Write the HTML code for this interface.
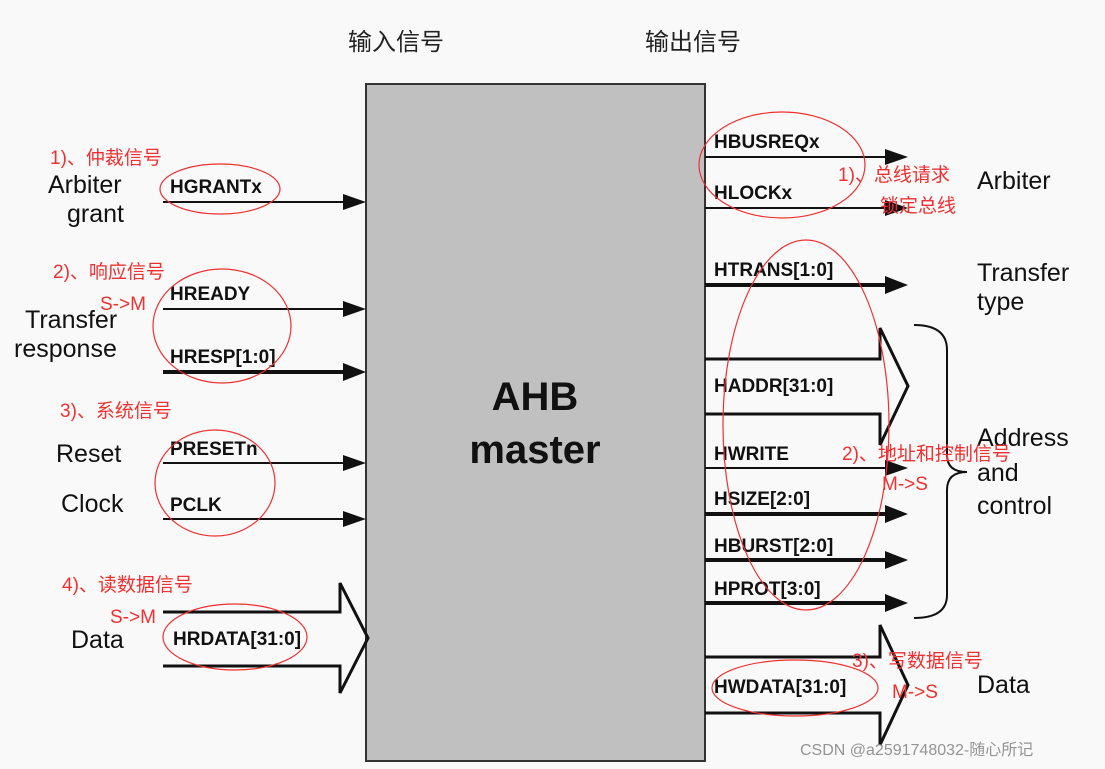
<!DOCTYPE html>
<html><head><meta charset="utf-8"><style>
html,body{margin:0;padding:0;background:#f9f9f9;}
svg{display:block}
.s{font-family:"Liberation Sans","Noto Sans CJK SC",sans-serif;}
.b{font-family:"Liberation Sans",sans-serif;font-weight:bold;font-size:19px;fill:#111;}
.l{font-family:"Liberation Sans",sans-serif;font-size:25px;fill:#111;}
.r{font-family:"Liberation Sans","Noto Sans CJK SC",sans-serif;font-size:19px;fill:#f03030;}
</style></head><body>
<svg width="1105" height="769" viewBox="0 0 1105 769" xmlns="http://www.w3.org/2000/svg">
<rect width="1105" height="769" fill="#f9f9f9"/>
<text x="348" y="50" class="s" font-size="24" fill="#222">输入信号</text>
<text x="645" y="50" class="s" font-size="24" fill="#222">输出信号</text>
<rect x="366" y="84" width="339" height="677" fill="#c0c0c0" stroke="#333" stroke-width="2"/>
<text x="535" y="410" text-anchor="middle" font-family="Liberation Sans,sans-serif" font-weight="bold" font-size="40" fill="#111">AHB</text>
<text x="535" y="463" text-anchor="middle" font-family="Liberation Sans,sans-serif" font-weight="bold" font-size="40" fill="#111">master</text>
<g stroke="#111" fill="none">
<line x1="163" y1="202" x2="345" y2="202" stroke-width="2"/>
<line x1="163" y1="309" x2="345" y2="309" stroke-width="2"/>
<line x1="163" y1="372" x2="345" y2="372" stroke-width="4"/>
<line x1="163" y1="463" x2="345" y2="463" stroke-width="2"/>
<line x1="163" y1="519" x2="345" y2="519" stroke-width="2"/>
<path d="M163 612 H340 V583 L368 638 L340 693 V666 H163" stroke-width="3"/>
<line x1="705" y1="157" x2="888" y2="157" stroke-width="2"/>
<line x1="705" y1="208" x2="888" y2="208" stroke-width="2"/>
<line x1="705" y1="285" x2="888" y2="285" stroke-width="4"/>
<path d="M705 359 H880 V328 L908 386 L880 445 V414 H705" stroke-width="3"/>
<line x1="705" y1="468" x2="888" y2="468" stroke-width="2"/>
<line x1="705" y1="514" x2="888" y2="514" stroke-width="4"/>
<line x1="705" y1="560" x2="888" y2="560" stroke-width="4"/>
<line x1="705" y1="603" x2="888" y2="603" stroke-width="4"/>
<path d="M705 657 H880 V625 L908 685 L880 745 V713 H705" stroke-width="3"/>
<path d="M914 325 Q947 325 947 350 V455 Q947 472 967 472 Q947 472 947 490 V595 Q947 618 914 618" stroke-width="2"/>
</g>
<g fill="#111">
<polygon points="343,194 366,202 343,210"/>
<polygon points="343,301 366,309 343,317"/>
<polygon points="343,363 366,372 343,381"/>
<polygon points="343,455 366,463 343,471"/>
<polygon points="343,511 366,519 343,527"/>
<polygon points="885,149 908,157 885,165"/>
<polygon points="885,200 908,208 885,216"/>
<polygon points="885,276 908,285 885,294"/>
<polygon points="885,460 908,468 885,476"/>
<polygon points="885,505 908,514 885,523"/>
<polygon points="885,551 908,560 885,569"/>
<polygon points="885,594 908,603 885,612"/>
</g>
<text x="170" y="193" class="b">HGRANTx</text>
<text x="170" y="300" class="b">HREADY</text>
<text x="170" y="363" class="b">HRESP[1:0]</text>
<text x="170" y="455" class="b">PRESETn</text>
<text x="170" y="511" class="b">PCLK</text>
<text x="173" y="645" class="b">HRDATA[31:0]</text>
<text x="714" y="148" class="b">HBUSREQx</text>
<text x="714" y="199" class="b">HLOCKx</text>
<text x="714" y="276" class="b">HTRANS[1:0]</text>
<text x="714" y="392" class="b">HADDR[31:0]</text>
<text x="714" y="460" class="b">HWRITE</text>
<text x="714" y="505" class="b">HSIZE[2:0]</text>
<text x="714" y="552" class="b">HBURST[2:0]</text>
<text x="714" y="595" class="b">HPROT[3:0]</text>
<text x="714" y="693" class="b">HWDATA[31:0]</text>
<g class="l">
<text x="48" y="193">Arbiter</text>
<text x="67" y="222">grant</text>
<text x="25" y="328">Transfer</text>
<text x="14" y="357">response</text>
<text x="56" y="462">Reset</text>
<text x="61" y="512">Clock</text>
<text x="71" y="648">Data</text>
<text x="977" y="189">Arbiter</text>
<text x="977" y="281">Transfer</text>
<text x="977" y="310">type</text>
<text x="977" y="446">Address</text>
<text x="977" y="481">and</text>
<text x="977" y="514">control</text>
<text x="977" y="693">Data</text>
</g>
<g fill="none" stroke="#f03030" stroke-width="1.2">
<ellipse cx="220" cy="189" rx="60" ry="25"/>
<ellipse cx="222" cy="326" rx="69" ry="57"/>
<ellipse cx="215" cy="483" rx="60" ry="53"/>
<ellipse cx="235" cy="637" rx="72" ry="33"/>
<ellipse cx="782" cy="165" rx="83" ry="53"/>
<ellipse cx="806" cy="425" rx="83" ry="185"/>
<ellipse cx="795" cy="688" rx="83" ry="28"/>
</g>
<g class="r">
<text x="50" y="164">1)、仲裁信号</text>
<text x="53" y="278">2)、响应信号</text>
<text x="100" y="310">S-&gt;M</text>
<text x="60" y="417">3)、系统信号</text>
<text x="62" y="591">4)、读数据信号</text>
<text x="110" y="623">S-&gt;M</text>
<text x="838" y="181">1)、总线请求</text>
<text x="880" y="212">锁定总线</text>
<text x="842" y="460">2)、地址和控制信号</text>
<text x="882" y="490">M-&gt;S</text>
<text x="852" y="667">3)、写数据信号</text>
<text x="892" y="698">M-&gt;S</text>
</g>
<text x="800" y="755" font-family="Liberation Sans,'Noto Sans CJK SC',sans-serif" font-size="16" fill="#888" fill-opacity="0.9">CSDN @a2591748032-随心所记</text>
</svg>
</body></html>
